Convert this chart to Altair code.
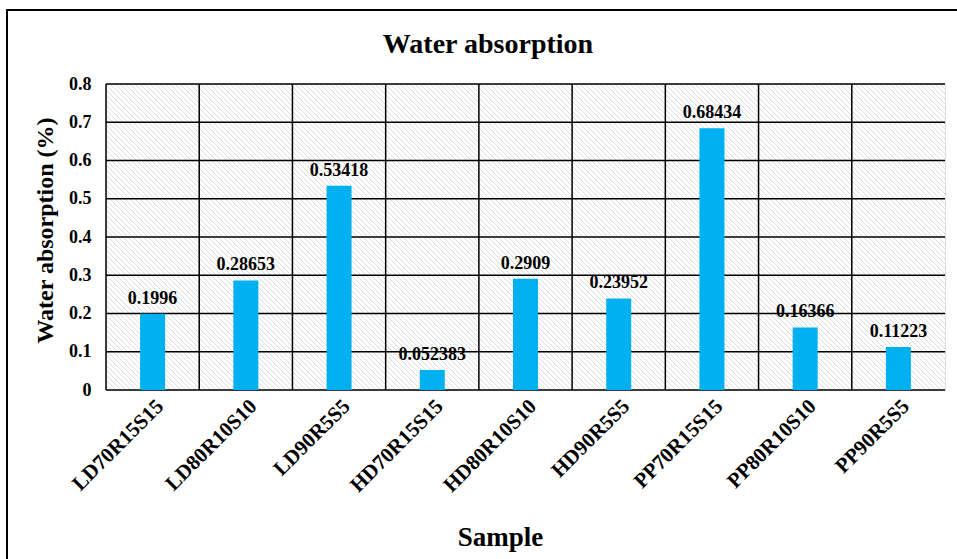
import altair as alt
import numpy as np
import pandas as pd

# Water absorption per sample
samples = ["LD70R15S15", "LD80R10S10", "LD90R5S5",
           "HD70R15S15", "HD80R10S10", "HD90R5S5",
           "PP70R15S15", "PP80R10S10", "PP90R5S5"]
absorption = [0.1996, 0.28653, 0.53418, 0.052383, 0.2909, 0.23952, 0.68434, 0.16366, 0.11223]
y_ticks = [0, 0.1, 0.2, 0.3, 0.4, 0.5, 0.6, 0.7, 0.8]
chart_title = "Water absorption"

FONT = "Liberation Serif"
W, H = 839, 306

df = pd.DataFrame({"sample": samples, "value": absorption,
                   "label": [str(v) for v in absorption]})

x_scale = alt.Scale(domain=samples, paddingInner=0, paddingOuter=0)
y_scale = alt.Scale(domain=[0, 0.8], nice=False)

# Diagonal hatching for the plot background
k = np.arange(-H, W + 6, 5.0)
hatch_df = pd.DataFrame({"x1": k, "y1": 0.0, "x2": k + H, "y2": float(H)})
hatch = alt.Chart(hatch_df).mark_rule(color="#dcdcdc", strokeWidth=1.0, clip=True).encode(
    x=alt.X("x1:Q", scale=None, axis=None),
    y=alt.Y("y1:Q", scale=None, axis=None),
    x2="x2:Q",
    y2="y2:Q",
)

# Horizontal grid lines
hgrid = alt.Chart(pd.DataFrame({"t": y_ticks})).mark_rule(color="black", strokeWidth=1.5).encode(
    y=alt.Y("t:Q", scale=y_scale, axis=None),
)

# Vertical lines at category boundaries
vgrid = alt.Chart(df).mark_rule(color="black", strokeWidth=1.5).encode(
    x=alt.X("sample:N", scale=x_scale, axis=None, bandPosition=0),
)

bars = alt.Chart(df).mark_bar(size=25, color="#00B0F0").encode(
    x=alt.X("sample:N", scale=x_scale, sort=samples,
            axis=alt.Axis(title="Sample", labelAngle=-45, labelFont=FONT,
                          labelFontSize=21, labelFontWeight="bold", labelColor="black",
                          labelPadding=5, ticks=False, domain=False, grid=False,
                          titleFont=FONT, titleFontSize=27, titleFontWeight="bold",
                          titleColor="black", titleBaseline="alphabetic",
                          titleX=394, titleY=155, titleAnchor="middle")),
    y=alt.Y("value:Q", scale=y_scale,
            axis=alt.Axis(title="Water absorption (%)", values=y_ticks, format="g",
                          labelFont=FONT, labelFontSize=18, labelFontWeight="bold",
                          labelColor="black", labelPadding=15, ticks=False,
                          domain=False, grid=False,
                          titleFont=FONT, titleFontSize=24, titleFontWeight="bold",
                          titleColor="black", titleAngle=-90, titleBaseline="alphabetic",
                          titleAlign="center", titleX=-54, titleY=146)),
)

labels = alt.Chart(df).mark_text(font=FONT, fontSize=18, fontWeight="bold",
                                 color="black", baseline="bottom", dy=-6).encode(
    x=alt.X("sample:N", scale=x_scale, axis=None),
    y=alt.Y("value:Q", scale=y_scale, axis=None),
    text="label:N",
)

# Chart heading
heading = alt.Chart(pd.DataFrame({"t": [chart_title]})).mark_text(
    font=FONT, fontSize=28, fontWeight="bold", color="black",
    align="center", baseline="alphabetic").encode(
    x=alt.value(382), y=alt.value(-31), text="t:N",
)

# Outer frame of the figure
frame = alt.Chart(pd.DataFrame({"f": [0]})).mark_rect(
    fill=None, fillOpacity=0, stroke="black", strokeWidth=2).encode(
    x=alt.value(-99), y=alt.value(-74), x2=alt.value(W + 200), y2=alt.value(H + 300),
)

chart = alt.layer(hatch, hgrid, vgrid, bars, labels, heading, frame).resolve_scale(
    x="independent", y="independent"
).properties(
    width=W, height=H,
    autosize=alt.AutoSizeParams(type="none"),
    padding={"left": 106, "top": 84, "right": 12, "bottom": 169},
).configure_view(stroke="black", strokeWidth=2).configure(background="white")

chart.save("out.html", embed_options={"renderer": "svg", "actions": False})
